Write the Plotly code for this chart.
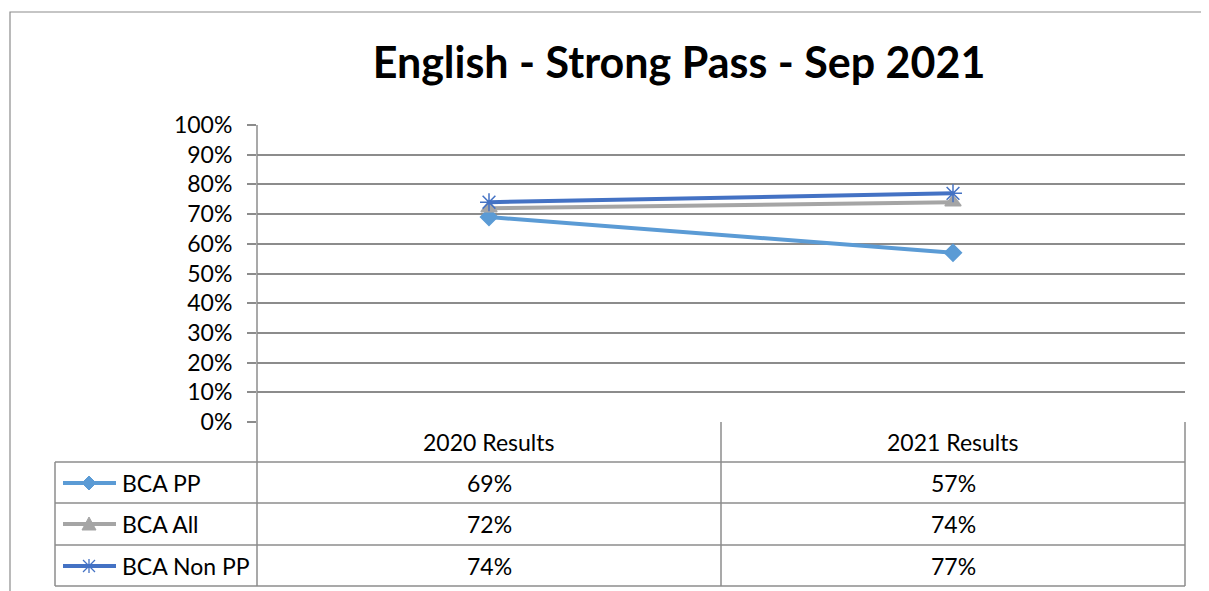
import plotly.graph_objects as go

categories = ["2020 Results", "2021 Results"]
series_names = ["BCA PP", "BCA All", "BCA Non PP"]
bca_pp = [0.69, 0.57]
bca_all = [0.72, 0.74]
bca_non_pp = [0.74, 0.77]
series_values = [bca_pp, bca_all, bca_non_pp]
tick_vals = [i / 10 for i in range(11)]
tick_text = [f"{i*10}%" for i in range(11)]
title_text = "English - Strong Pass - Sep 2021"

colors = ["#5B9BD5", "#A5A5A5", "#4472C4"]
symbols = ["diamond", "triangle-up", "asterisk-open"]
msizes = [13, 14, 15]

OFF = 8  # page body margin
W, H = 1201, 583
# plot area in screen pixels
L, R, T, B = 257, 1185, 125, 422
GRID = "#8C8C8C"
FONT = "Lato, 'Open Sans', sans-serif"
TXT = 23


def px(x):
    return (x - L) / (R - L)


def py(y):
    return (B - y) / (B - T)


fig = go.Figure()
for name, vals, c, s, ms in zip(series_names, series_values, colors, symbols, msizes):
    fig.add_trace(go.Scatter(
        x=categories, y=vals, name=name, mode="lines+markers",
        line=dict(color=c, width=4),
        marker=dict(symbol=s, size=ms, color=c, line=dict(color=c, width=1.5)),
        cliponaxis=False,
    ))

shapes = []


def hline(x0, x1, y):
    shapes.append(dict(type="line", xref="paper", yref="paper", x0=px(x0), x1=px(x1),
                       y0=py(y), y1=py(y), line=dict(color=GRID, width=1.5)))


def vline(x, y0, y1):
    shapes.append(dict(type="line", xref="paper", yref="paper", x0=px(x), x1=px(x),
                       y0=py(y0), y1=py(y1), line=dict(color=GRID, width=1.5)))


# outer chart border (cropped at right/bottom)
shapes.append(dict(type="rect", xref="paper", yref="paper", x0=px(10), x1=px(1240),
                   y0=py(12), y1=py(640), line=dict(color="#8C8C8C", width=1.2)))

row_lines = [462, 503, 545, 586]
row_centers = [442, 483, 524, 566]
for y in row_lines:
    hline(55, R, y)
vline(L, T, 586)
vline(721, B, 586)
vline(R, B, 586)
vline(55, 462, 586)

annotations = []
for cat in categories:
    annotations.append(dict(x=cat, xref="x", y=py(row_centers[0]), yref="paper",
                            text=cat, showarrow=False, font=dict(size=TXT, color="black", family=FONT),
                            xanchor="center", yanchor="middle"))
for i, (name, vals, c) in enumerate(zip(series_names, series_values, colors)):
    yc = row_centers[i + 1]
    for cat, v in zip(categories, vals):
        annotations.append(dict(x=cat, xref="x", y=py(yc), yref="paper",
                                text=f"{round(v*100)}%", showarrow=False,
                                font=dict(size=TXT, color="black", family=FONT),
                                xanchor="center", yanchor="middle"))
    annotations.append(dict(x=px(120), xref="paper", y=py(yc), yref="paper", text=name,
                            showarrow=False, font=dict(size=TXT, color="black", family=FONT),
                            xanchor="left", yanchor="middle"))
    shapes.append(dict(type="line", xref="paper", yref="paper", x0=px(63), x1=px(116),
                       y0=py(yc), y1=py(yc), line=dict(color=c, width=4)))
    cx = 89
    if i == 0:
        path = f"M {px(cx-7)} {py(yc)} L {px(cx)} {py(yc-7)} L {px(cx+7)} {py(yc)} L {px(cx)} {py(yc+7)} Z"
        shapes.append(dict(type="path", xref="paper", yref="paper", path=path,
                           fillcolor=c, line=dict(color=c, width=1)))
    elif i == 1:
        path = f"M {px(cx-7)} {py(yc+6)} L {px(cx)} {py(yc-7)} L {px(cx+7)} {py(yc+6)} Z"
        shapes.append(dict(type="path", xref="paper", yref="paper", path=path,
                           fillcolor=c, line=dict(color=c, width=1)))
    else:
        for dx0, dy0, dx1, dy1 in [(0, -7, 0, 7), (-6, -6, 6, 6), (-6, 6, 6, -6)]:
            shapes.append(dict(type="line", xref="paper", yref="paper",
                               x0=px(cx+dx0), x1=px(cx+dx1), y0=py(yc+dy0), y1=py(yc+dy1),
                               line=dict(color=c, width=1.3)))

fig.update_layout(
    width=W, height=H,
    margin=dict(l=L - OFF, r=W - (R - OFF), t=T - OFF, b=H - (B - OFF)),
    paper_bgcolor="white", plot_bgcolor="white",
    showlegend=False,
    title=dict(text=f"<b>{title_text}</b>", x=px(679), xref="paper", xanchor="center",
               y=1 - (63 - OFF) / H, yanchor="middle", font=dict(size=43, color="black", family=FONT)),
    xaxis=dict(showgrid=False, showticklabels=False, ticks="", showline=False, zeroline=False,
               range=[-0.5, 1.5]),
    yaxis=dict(range=[0, 1], tickvals=tick_vals, ticktext=tick_text, showgrid=True,
               gridcolor=GRID, gridwidth=1.5, zeroline=False, showline=False,
               ticks="outside", ticklen=9, tickcolor=GRID, tickwidth=1.5,
               ticklabelstandoff=10,
               tickfont=dict(size=TXT, color="black", family=FONT)),
    shapes=shapes, annotations=annotations,
)

fig.write_html("out.html")
